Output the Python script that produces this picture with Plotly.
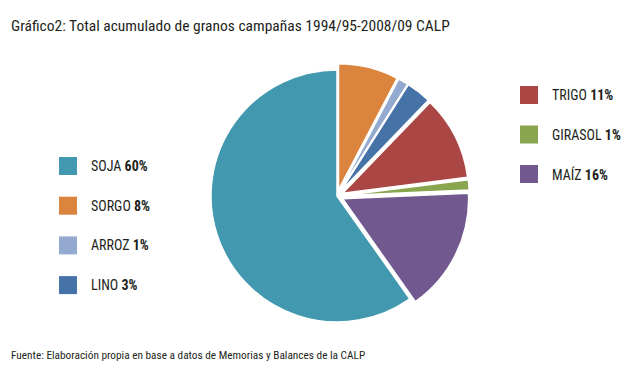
import plotly.graph_objects as go

# Data (order: clockwise from 12 o'clock)
crops = ["SORGO", "ARROZ", "LINO", "TRIGO", "GIRASOL", "MAÍZ", "SOJA"]
values = [7.7, 1.3, 3.2, 10.8, 1.3, 15.9, 59.8]
pct_labels = ["8%", "1%", "3%", "11%", "1%", "16%", "60%"]
colors = ["#DB843D", "#93A9CF", "#4572A7", "#AA4643", "#89A54E", "#71588F", "#4198AF"]
pulls = [0.05, 0.05, 0.05, 0.05, 0.05, 0.05, 0.0]

left_legend = ["SOJA", "SORGO", "ARROZ", "LINO"]
right_legend = ["TRIGO", "GIRASOL", "MAÍZ"]

FONT = "Roboto Condensed, DejaVu Sans Condensed, sans-serif"

fig = go.Figure()
fig.add_trace(go.Pie(
    labels=crops, values=values, sort=False, direction="clockwise", rotation=0,
    marker=dict(colors=colors, line=dict(color="white", width=1.5)),
    pull=pulls, textinfo="none", showlegend=False,
    domain=dict(x=[0.3249, 0.7449], y=[0.1338, 0.832]),
))

W, H = 630, 379
shapes, annots = [], []

def legend_item(name, x_sq, y_c):
    i = crops.index(name)
    shapes.append(dict(type="rect", xref="paper", yref="paper",
                       x0=x_sq / W, x1=(x_sq + 18) / W,
                       y0=1 - (y_c + 9) / H, y1=1 - (y_c - 9) / H,
                       fillcolor=colors[i], line=dict(width=0)))
    annots.append(dict(xref="paper", yref="paper", x=(x_sq + 30) / W, y=1 - y_c / H,
                       xanchor="left", yanchor="middle", showarrow=False,
                       text=f"{name} <b>{pct_labels[i]}</b>",
                       font=dict(family=FONT, size=14, color="#231F20")))

for k, n in enumerate(left_legend):
    legend_item(n, 59, 166 + k * 39.7)
for k, n in enumerate(right_legend):
    legend_item(n, 520, 95 + k * 39.5)

annots.append(dict(xref="paper", yref="paper", x=9 / W, y=1 - 26 / H,
                   xanchor="left", yanchor="middle", showarrow=False,
                   text="Gráfico2: Total acumulado de granos campañas 1994/95-2008/09 CALP",
                   font=dict(family=FONT, size=15.5, color="#231F20")))
annots.append(dict(xref="paper", yref="paper", x=9 / W, y=1 - 355 / H,
                   xanchor="left", yanchor="middle", showarrow=False,
                   text="Fuente: Elaboración propia en base a datos de Memorias y Balances de la CALP",
                   font=dict(family=FONT, size=11.3, color="#231F20")))

fig.update_layout(width=W, height=H, margin=dict(l=0, r=0, t=0, b=0),
                  paper_bgcolor="white", plot_bgcolor="white",
                  shapes=shapes, annotations=annots)
fig.write_html("out.html", post_script="document.body.style.margin='0';",
               config={"displayModeBar": False})
